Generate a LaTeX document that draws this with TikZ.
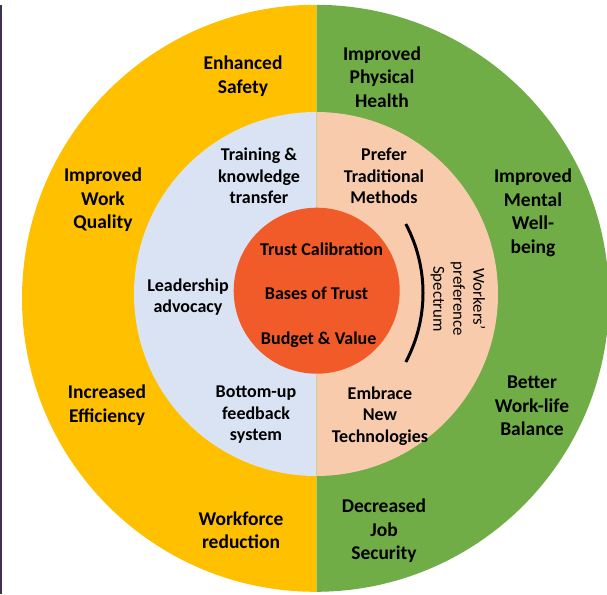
\documentclass[tikz,border=0pt]{standalone}
\usepackage{fontspec}
\setmainfont{Carlito}
\usetikzlibrary{positioning}
\definecolor{gold}{HTML}{FFC000}
\definecolor{leaf}{HTML}{70AD47}
\definecolor{mist}{HTML}{DAE3F3}
\definecolor{peach}{HTML}{F8CBAD}
\definecolor{ember}{HTML}{F15A29}
\definecolor{ink}{HTML}{3F3151}
\tikzset{outer/.style={font=\bfseries\fontsize{19.5}{23.5}\selectfont,align=center,inner sep=0pt},ring/.style={font=\bfseries\fontsize{18}{21.5}\selectfont,align=center,inner sep=0pt},core/.style={font=\bfseries\fontsize{18}{21.5}\selectfont,anchor=base,inner sep=0pt},spec/.style={font=\fontsize{16.8}{20}\selectfont,align=center,rotate=-90,inner sep=0pt}}

\begin{document}
\begin{tikzpicture}[x=1pt,y=-1pt]
\useasboundingbox (0,0) rectangle (607,594);
% left halves
\begin{scope}
\clip (0,0) rectangle (316.5,594);
\fill[gold] (315.5,298.3) circle[radius=293.5pt];
\fill[mist] (316,294) circle[radius=182pt];
\end{scope}
% right halves
\begin{scope}
\clip (316.5,0) rectangle (607,594);
\fill[leaf] (315.5,298.3) circle[radius=293.5pt];
\fill[peach] (316,294) circle[radius=182pt];
\end{scope}
\fill[ember] (316.7,290.7) circle[radius=83pt];
\draw[line width=3pt] (276,293) ++(-28:147pt) arc[start angle=-28,end angle=28,radius=147pt];
\draw[ink,line width=2pt] (1,5) -- (1,594);

% outer ring
\node[outer] (safety) at (243,76) {Enhanced\\Safety};
\node[outer] (quality) at (103,200) {Improved\\Work\\Quality};
\node[outer] (efficiency) at (107,405) {Increased\\Efficiency};
\node[outer] (workforce) at (241,530) {Workforce\\reduction};
\node[outer] (physical) at (382,77) {Improved\\Physical\\Health};
\node[outer] (mental) at (533,213) {Improved\\Mental\\Well-\\being};
\node[outer] (balance) at (532,406) {Better\\Work-life\\Balance};
\node[outer] (security) at (384,531) {Decreased\\Job\\Security};

% middle ring
\node[ring] (training) at (259,176) {Training \&\\knowledge\\transfer};
\node[ring] (leadership) at (188,297) {Leadership\\advocacy};
\node[ring] (feedback) at (256,415) {Bottom-up\\feedback\\system};
\node[ring] (traditional) at (384,176) {Prefer\\Traditional\\Methods};
\node[ring] (technologies) at (380,416) {Embrace\\New\\Technologies};
\node[spec] (spectrum) at (458,299) {Workers'\\preference\\Spectrum};

% core
\node[core] (calibration) at (321.5,255) {Trust Calibration};
\node[core] (bases) at (316.5,299) {Bases of Trust};
\node[core] (budget) at (318.7,344) {Budget \& Value};
\end{tikzpicture}
\end{document}
